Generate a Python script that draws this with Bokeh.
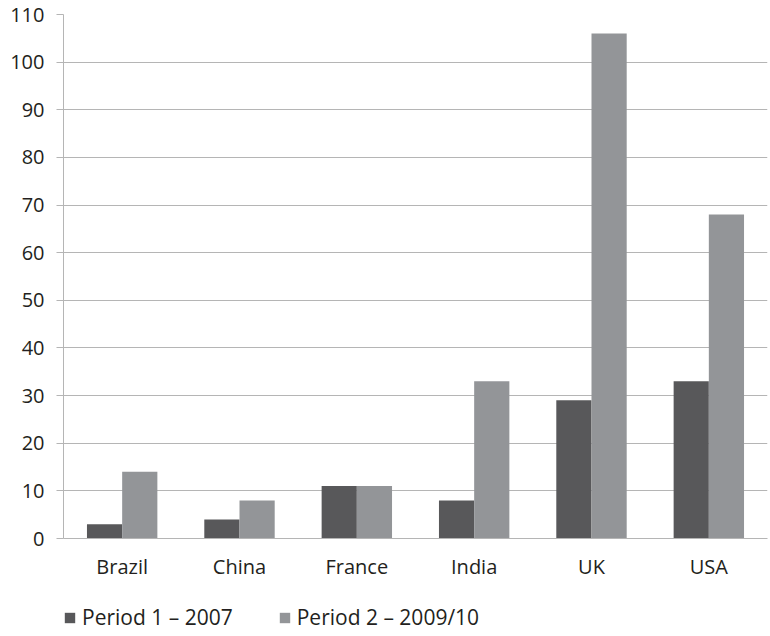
from bokeh.plotting import figure
from bokeh.layouts import column
from bokeh.models import ColumnDataSource, FactorRange, Legend, LegendItem, SingleIntervalTicker
from bokeh.transform import dodge
from bokeh.embed import file_html
from bokeh.resources import INLINE

countries = ["Brazil", "China", "France", "India", "UK", "USA"]
period1 = [3, 4, 11, 8, 29, 33]
period2 = [14, 8, 11, 33, 106, 68]
series_labels = ["Period 1 \u2013 2007", "Period 2 \u2013 2009/10"]

DARK = "#58585a"
LIGHT = "#939598"
GRID = "#b5b5b5"
FONT = "Open Sans"
TEXT = "#231f20"

src = ColumnDataSource(data=dict(country=countries, p1=period1, p2=period2))

p = figure(x_range=FactorRange(*countries, range_padding=0), y_range=(0, 110),
           width=770, height=582, output_backend="svg", toolbar_location=None,
           min_border_left=63, min_border_right=3, min_border_top=14, min_border_bottom=44)
p.x_range.range_padding = 0

r1 = p.vbar(x=dodge("country", -0.15, range=p.x_range), top="p1", width=0.3, source=src,
            fill_color=DARK, line_color=None)
r2 = p.vbar(x=dodge("country", 0.15, range=p.x_range), top="p2", width=0.3, source=src,
            fill_color=LIGHT, line_color=None)

p.outline_line_color = None
p.background_fill_color = "white"
p.border_fill_color = "white"

p.yaxis.ticker = SingleIntervalTicker(interval=10)
p.ygrid.grid_line_color = GRID
p.ygrid.grid_line_width = 1
p.xgrid.grid_line_color = None

for ax in (p.xaxis, p.yaxis):
    ax.axis_line_color = GRID
    ax.major_label_text_font = FONT
    ax.major_label_text_font_size = "20px"
    ax.major_label_text_color = TEXT
    ax.minor_tick_line_color = None

p.yaxis.major_tick_line_color = GRID
p.yaxis.major_tick_out = 7
p.yaxis.major_tick_in = 0
p.yaxis.major_label_standoff = 12
p.xaxis.major_tick_line_color = None
p.xaxis.major_label_standoff = 8

# legend strip: same bars, kept out of view, only used as legend swatches
lf = figure(width=770, height=54, output_backend="svg", toolbar_location=None,
            x_axis_type=None, y_axis_type=None, x_range=p.x_range, y_range=(1000, 1001),
            min_border=0)
lf.outline_line_color = None
lf.grid.visible = False
lf.background_fill_color = "white"
lf.border_fill_color = "white"
l1 = lf.vbar(x=dodge("country", -0.15, range=lf.x_range), top="p1", width=0.3, source=src,
             fill_color=DARK, line_color=None)
l2 = lf.vbar(x=dodge("country", 0.15, range=lf.x_range), top="p2", width=0.3, source=src,
             fill_color=LIGHT, line_color=None)

legend = Legend(items=[LegendItem(label=series_labels[0], renderers=[l1]),
                       LegendItem(label=series_labels[1], renderers=[l2])],
                orientation="horizontal", location=(0, 5),
                label_text_font=FONT, label_text_font_size="21px", label_text_color=TEXT,
                glyph_width=13, glyph_height=13, label_standoff=6, spacing=45,
                padding=0, margin=0, border_line_color=None, background_fill_alpha=0)
lf.add_layout(legend, "center")

layout = column(p, lf, spacing=0)
open("out.html", "w").write(file_html(layout, INLINE))
